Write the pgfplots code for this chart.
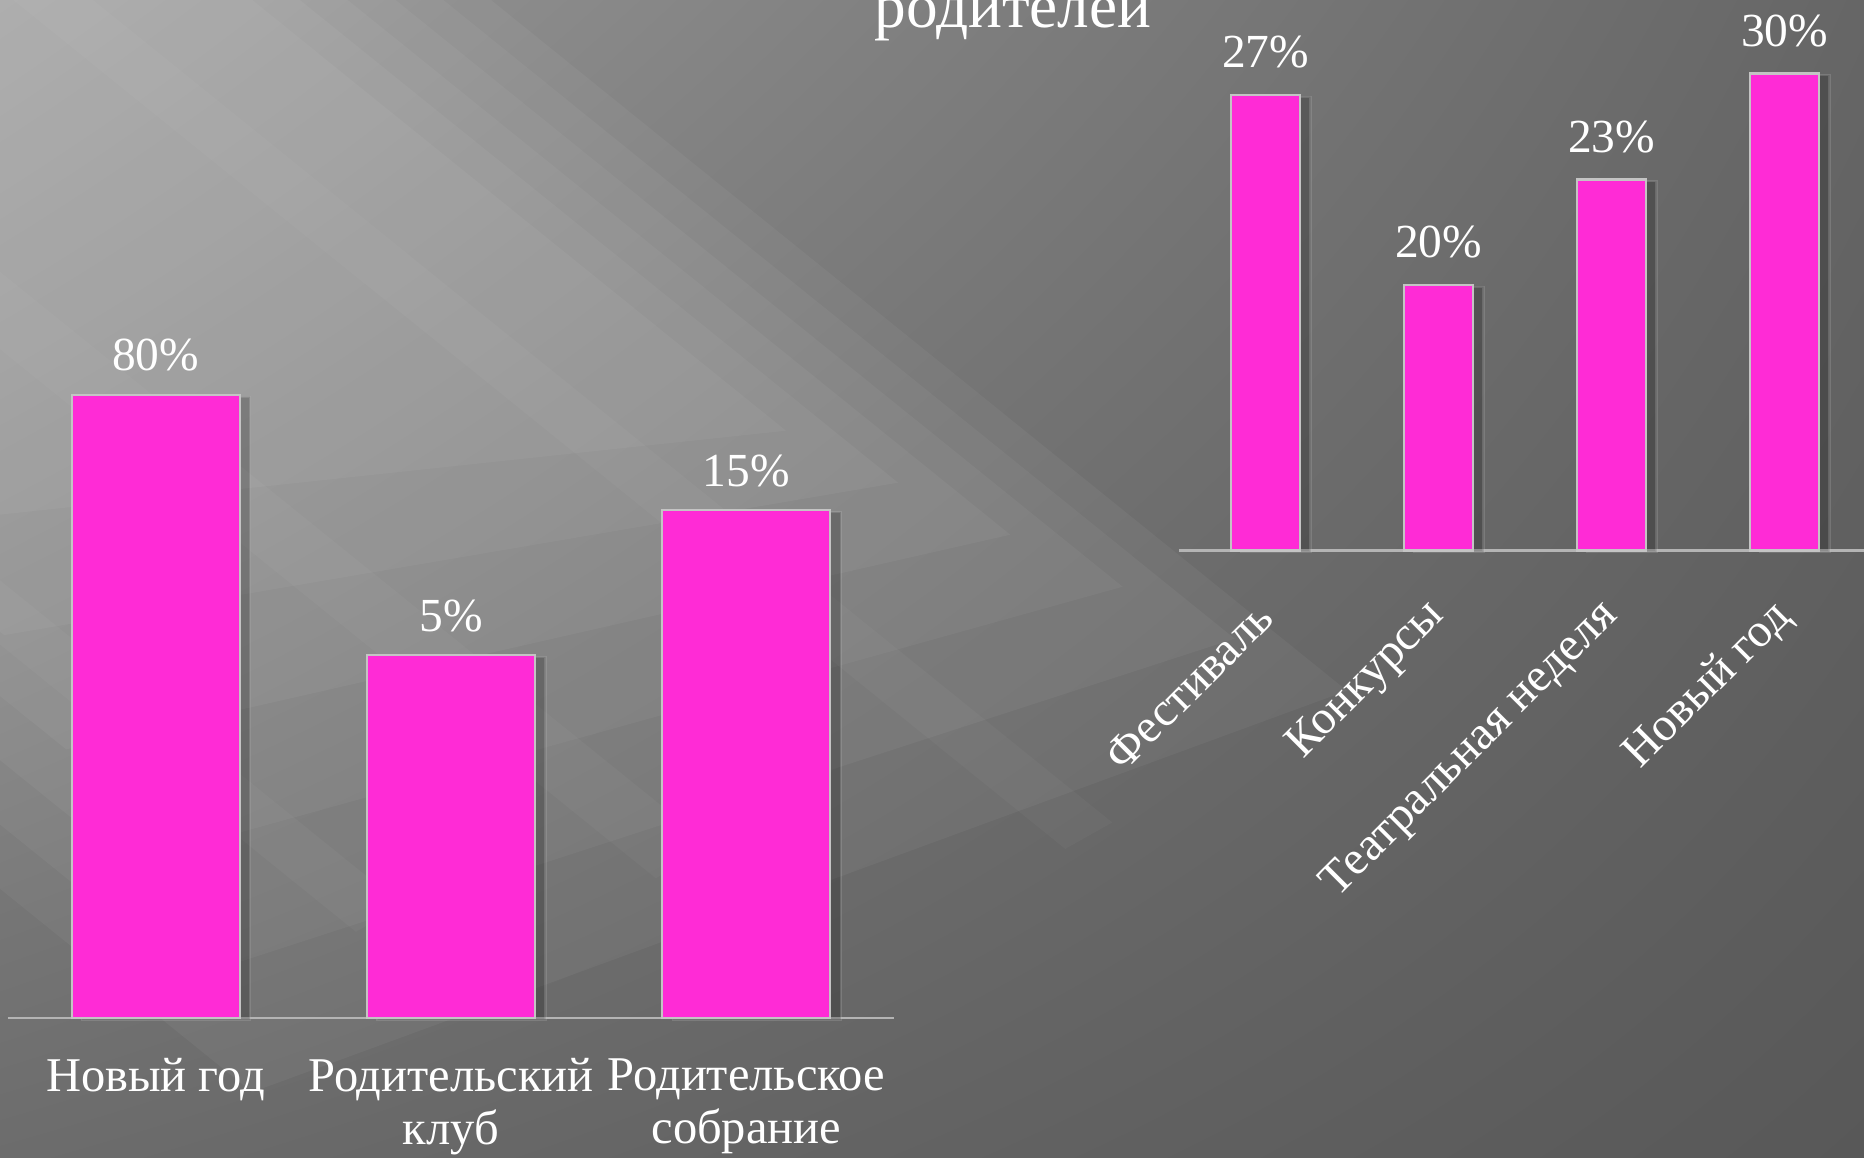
\documentclass[border=0pt]{standalone}
\usepackage{fontspec}
\setmainfont{Liberation Serif}
\usepackage{pgfplots}
\pgfplotsset{compat=1.18}
\usetikzlibrary{shadows,shadings}
\definecolor{barpink}{HTML}{FF2BD6}
\definecolor{barborder}{HTML}{C4C4C4}
\definecolor{axisgray}{HTML}{B4B4B4}
\definecolor{bgUL}{HTML}{999999}
\definecolor{bgUR}{HTML}{666666}
\definecolor{bgLL}{HTML}{6C6C6C}
\definecolor{bgLR}{HTML}{585858}
\begin{document}
\begin{tikzpicture}
\useasboundingbox (0,0) rectangle (18.64,11.58);
\clip (0,0) rectangle (18.64,11.58);
\shade[upper left=bgUL, upper right=bgUR, lower left=bgLL, lower right=bgLR] (0,0) rectangle (18.64,11.58);
% soft diagonal light from the upper left (background decoration)
\begin{scope}[shift={(4.91,11.58)}, rotate=-38.9]
  \foreach \i in {0,...,5}{
    \fill[white, opacity=0.045]
      (-7,{-0.3*\i}) -- ({11-1.2*\i},{-0.3*\i}) -- ({5-1.2*\i},{-10+0.5*\i}) -- (-7,{-10+0.5*\i}) -- cycle;
  }
  \fill[white, opacity=0.03] (-7,-5.2) -- (7,-5.2) -- (6.8,-5.8) -- (-7,-5.8) -- cycle;
  \fill[white, opacity=0.03] (-7,-2.5) -- (10,-2.5) -- (9.8,-3.0) -- (-7,-3.0) -- cycle;
  \fill[white, opacity=0.03] (-7,-7.6) -- (5,-7.6) -- (4.8,-8.1) -- (-7,-8.1) -- cycle;
\end{scope}
% title fragment
\node[anchor=base, text=white, font=\fontsize{18}{21}\selectfont] at (10.13,11.30) {родителей};

\begin{axis}[
  at={(0.08cm,1.40cm)}, anchor=south west, scale only axis,
  width=8.86cm, height=6.23cm,
  xmin=-0.5, xmax=2.5, ymin=0, ymax=80,
  axis x line=bottom, axis y line=none,
  axis line style={-, draw=axisgray, line width=0.8pt},
  xtick={0,1,2}, major tick length=0pt, ytick=\empty,
  xticklabels={Новый год, {Родительский\\клуб}, {Родительское\\собрание}},
  xticklabel style={font=\fontsize{13.8}{15}\selectfont, text=white, align=center, anchor=north, inner sep=0pt, yshift=-0.40cm},
  ybar, bar width=1.68cm,
  nodes near coords, point meta=explicit symbolic,
  every node near coord/.append style={font=\fontsize{13.5}{16}\selectfont, text=white, anchor=base, yshift=0.24cm, inner sep=0pt},
  clip=false,
]
\addplot[fill=barpink, draw=barborder, line width=0.6pt,
  drop shadow={shadow xshift=3pt, shadow yshift=-0.5pt, opacity=0.22, fill=black}]
  coordinates {(0,80) [80\%] (1,46.6) [5\%] (2,65.2) [15\%]};
\end{axis}

\begin{axis}[
  at={(11.79cm,6.075cm)}, anchor=south west, scale only axis,
  width=6.92cm, height=4.77cm,
  xmin=-0.5, xmax=3.5, ymin=0, ymax=30,
  axis x line=bottom, axis y line=none,
  axis line style={-, draw=axisgray, line width=0.8pt},
  xtick={0,1,2,3}, major tick length=0pt, ytick=\empty,
  xticklabels={Фестиваль, Конкурсы, Театральная неделя, Новый год},
  xticklabel style={font=\fontsize{13.5}{16}\selectfont, text=white, xshift=0.0cm, yshift=-0.59cm, rotate=45, anchor=east, inner sep=0pt},
  ybar, bar width=0.69cm,
  nodes near coords, point meta=explicit symbolic,
  every node near coord/.append style={font=\fontsize{13.5}{16}\selectfont, text=white, anchor=base, yshift=0.27cm, inner sep=0pt},
  clip=false,
]
\addplot[fill=barpink, draw=barborder, line width=0.6pt,
  drop shadow={shadow xshift=3pt, shadow yshift=-0.5pt, opacity=0.22, fill=black}]
  coordinates {(0,28.65) [27\%] (1,16.7) [20\%] (2,23.33) [23\%] (3,30) [30\%]};
\end{axis}
\end{tikzpicture}
\end{document}
